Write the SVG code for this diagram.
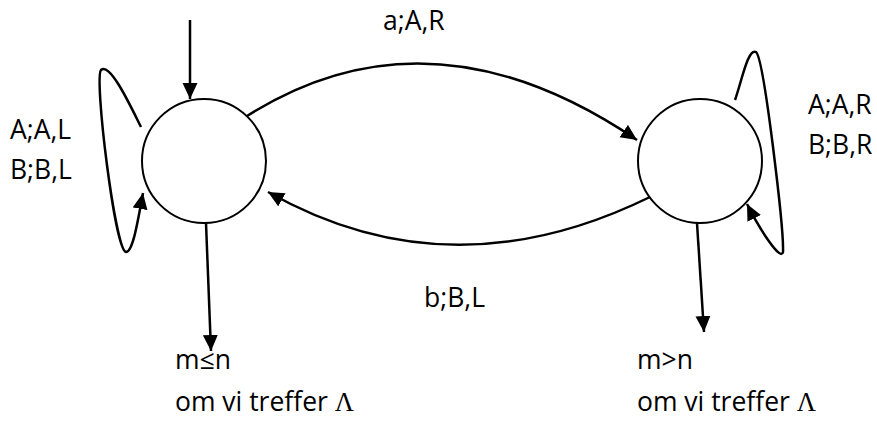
<svg xmlns="http://www.w3.org/2000/svg" width="877" height="442" viewBox="0 0 877 442">
  <style>
    .state { fill: #ffffff; stroke: #000000; stroke-width: 2; }
    .edge { fill: none; stroke: #000000; stroke-width: 2.5; marker-end: url(#arrow); }
    .label { font-family: "Open Sans", "Liberation Sans", sans-serif; font-size: 26.5px; fill: #000000; }
    .sym { font-family: "Liberation Serif", serif; }
  </style>
  <defs>
    <marker id="arrow" markerUnits="userSpaceOnUse" markerWidth="17" markerHeight="16" refX="16" refY="7.5" orient="auto">
      <path d="M0,0 L16,7.5 L0,15 z" fill="#000000"/>
    </marker>
  </defs>

  <!-- states -->
  <g id="q0">
    <circle class="state" cx="204" cy="161" r="62"/>
  </g>
  <g id="q1">
    <circle class="state" cx="700" cy="161" r="62"/>
  </g>

  <!-- transitions -->
  <g id="connectors">
    <line class="edge" x1="190" y1="20" x2="190" y2="99"/>
    <path class="edge" d="M247,116 Q430,0 637,140"/>
    <path class="edge" d="M650,197 Q450,295 268,192"/>
    <path class="edge" d="M141,127 C130,105 110,62 101,70 C94,78 115,250 126,252 C133,252 138,220 143,193"/>
    <path class="edge" d="M735,100 C742,80 748,48 756,52 C764,58 784,230 783,252 C781,262 760,230 747,204"/>
    <line class="edge" x1="206" y1="223" x2="211" y2="351"/>
    <line class="edge" x1="697" y1="223" x2="704" y2="332"/>
  </g>

  <!-- labels -->
  <g id="labels">
    <text class="label" x="383" y="30">a;A,R</text>
    <text class="label" x="10" y="139">A;A,L</text>
    <text class="label" x="10" y="179">B;B,L</text>
    <text class="label" x="808" y="114">A;A,R</text>
    <text class="label" x="808" y="154">B;B,R</text>
    <text class="label" x="424" y="307">b;B,L</text>
    <text class="label" x="175" y="369">m≤n</text>
    <text class="label" x="175" y="411">om vi treffer <tspan class="sym">Λ</tspan></text>
    <text class="label" x="637" y="369">m&gt;n</text>
    <text class="label" x="637" y="411">om vi treffer <tspan class="sym">Λ</tspan></text>
  </g>
</svg>
